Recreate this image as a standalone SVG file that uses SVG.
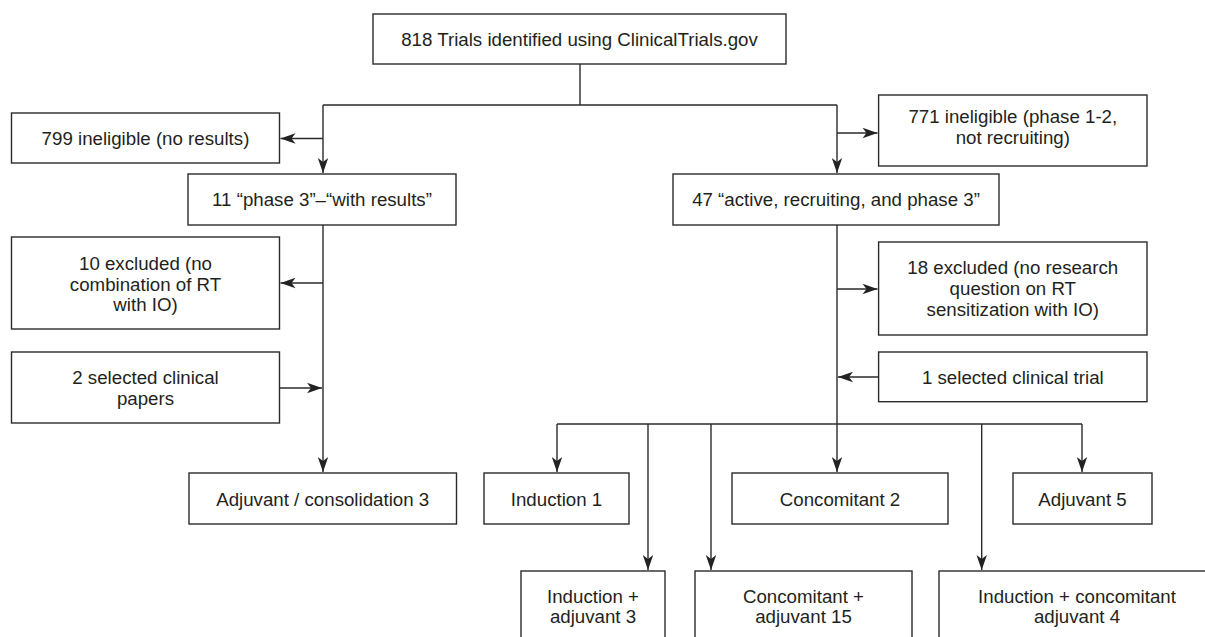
<svg xmlns="http://www.w3.org/2000/svg" width="1205" height="637" viewBox="0 0 1205 637">
<style>
.box{fill:#fff;stroke:#2b2b2b;stroke-width:1.4}
.t{font-family:"Liberation Sans",Arial,Helvetica,sans-serif;font-size:18.7px;fill:#231f20;text-anchor:middle}
.c{fill:none;stroke:#2b2b2b;stroke-width:1.4}
</style>
<defs>
<marker id="ah" markerUnits="userSpaceOnUse" markerWidth="18" markerHeight="12" viewBox="-16 -6 17 12" refX="0" refY="0" orient="auto">
<path d="M0,0 L-15,-5.2 L-11,0 L-15,5.2 Z" fill="#222"/>
</marker>
</defs>
<rect width="1205" height="637" fill="#fff"/>
<g id="connectors">
<path class="c" d="M580,64 V105 M323,105 H837"/>
<path class="c" d="M323,105 V173" marker-end="url(#ah)"/>
<path class="c" d="M323,138.5 H280.5" marker-end="url(#ah)"/>
<path class="c" d="M837,105 V173" marker-end="url(#ah)"/>
<path class="c" d="M837,133 H877.5" marker-end="url(#ah)"/>
<path class="c" d="M323,225 V472" marker-end="url(#ah)"/>
<path class="c" d="M323,283 H280.5" marker-end="url(#ah)"/>
<path class="c" d="M279.4,388 H322" marker-end="url(#ah)"/>
<path class="c" d="M837,225 V472" marker-end="url(#ah)"/>
<path class="c" d="M837,289 H877.5" marker-end="url(#ah)"/>
<path class="c" d="M878.6,377 H838" marker-end="url(#ah)"/>
<path class="c" d="M557,424 H1082"/>
<path class="c" d="M557,424 V472" marker-end="url(#ah)"/>
<path class="c" d="M648,424 V570" marker-end="url(#ah)"/>
<path class="c" d="M711,424 V570" marker-end="url(#ah)"/>
<path class="c" d="M981.7,424 V570" marker-end="url(#ah)"/>
<path class="c" d="M1082,424 V472" marker-end="url(#ah)"/>
</g>
<g id="n_total"><rect class="box" x="373" y="14" width="413" height="50"/><text class="t" x="579.5" y="46">818 Trials identified using ClinicalTrials.gov</text></g>
<g id="n_799"><rect class="box" x="11.5" y="113" width="268" height="50"/><text class="t" x="145.5" y="145">799 ineligible (no results)</text></g>
<g id="n_11"><rect class="box" x="188" y="174" width="268" height="51"/><text class="t" x="322" y="206">11 “phase 3”–“with results”</text></g>
<g id="n_771"><rect class="box" x="878.6" y="95" width="268.4" height="71"/><text class="t" x="1012.8" y="123">771 ineligible (phase 1-2,</text><text class="t" x="1012.8" y="143.5">not recruiting)</text></g>
<g id="n_47"><rect class="box" x="673" y="174" width="326" height="51"/><text class="t" x="836" y="206">47 “active, recruiting, and phase 3”</text></g>
<g id="n_10"><rect class="box" x="11.5" y="237" width="268" height="92"/><text class="t" x="145.5" y="270">10 excluded (no</text><text class="t" x="145.5" y="290.5">combination of RT</text><text class="t" x="145.5" y="311">with IO)</text></g>
<g id="n_2"><rect class="box" x="11.5" y="352" width="268" height="71"/><text class="t" x="145.5" y="384">2 selected clinical</text><text class="t" x="145.5" y="404.5">papers</text></g>
<g id="n_18"><rect class="box" x="878.6" y="242" width="268.4" height="93"/><text class="t" x="1012.8" y="274">18 excluded (no research</text><text class="t" x="1012.8" y="295">question on RT</text><text class="t" x="1012.8" y="316">sensitization with IO)</text></g>
<g id="n_1"><rect class="box" x="878.6" y="352" width="268.4" height="49.7"/><text class="t" x="1012.8" y="383.5">1 selected clinical trial</text></g>
<g id="n_adjcons"><rect class="box" x="189" y="473" width="267.5" height="51"/><text class="t" x="322.7" y="506">Adjuvant / consolidation 3</text></g>
<g id="n_ind1"><rect class="box" x="484" y="473" width="145" height="51"/><text class="t" x="556.5" y="506">Induction 1</text></g>
<g id="n_conc2"><rect class="box" x="732" y="473" width="216" height="51"/><text class="t" x="840" y="506">Concomitant 2</text></g>
<g id="n_adj5"><rect class="box" x="1013" y="473" width="139" height="51"/><text class="t" x="1082.5" y="506">Adjuvant 5</text></g>
<g id="n_indadj"><rect class="box" x="521" y="571" width="144" height="80"/><text class="t" x="593" y="603">Induction +</text><text class="t" x="593" y="623">adjuvant 3</text></g>
<g id="n_concadj"><rect class="box" x="695" y="571" width="217" height="80"/><text class="t" x="803.5" y="603">Concomitant +</text><text class="t" x="803.5" y="623">adjuvant 15</text></g>
<g id="n_indconc"><rect class="box" x="939" y="571" width="280" height="80"/><text class="t" x="1077" y="603">Induction + concomitant</text><text class="t" x="1077" y="623">adjuvant 4</text></g>
</svg>
